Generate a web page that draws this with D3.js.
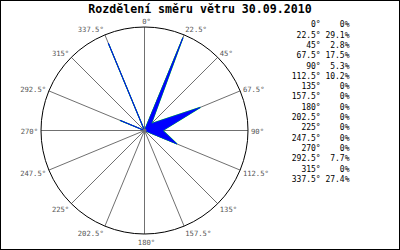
<!DOCTYPE html>
<meta charset="utf-8">
<script src="https://d3js.org/d3.v7.min.js"></script>
<style>
  body { margin: 0; background: #fff; }
</style>
<div id="chart"></div>
<script>
    // wind direction data (percent per sector)
    const title = "Rozdělení směru větru 30.09.2010";
    const directions = [0, 22.5, 45, 67.5, 90, 112.5, 135, 157.5, 180, 202.5, 225, 247.5, 270, 292.5, 315, 337.5];
    const percents = [0, 29.1, 2.8, 17.5, 5.3, 10.2, 0, 0, 0, 0, 0, 0, 0, 7.7, 0, 27.4];
    const maxScale = 30;

    const W = 400, H = 250;
    const cx = 144.5, cy = 130.5, R = 103.5;

    const svg = d3.select("#chart").append("svg")
        .attr("width", W)
        .attr("height", H);

    svg.append("rect")
        .attr("width", W).attr("height", H)
        .attr("fill", "#fff");

    // frame
    svg.append("rect")
        .attr("x", 0.5).attr("y", 0.5)
        .attr("width", W - 1).attr("height", H - 1)
        .attr("fill", "none")
        .attr("stroke", "#000");

    svg.append("text")
        .attr("x", 200).attr("y", 13)
        .attr("text-anchor", "middle")
        .attr("font-family", "DejaVu Sans Mono")
        .attr("font-weight", "bold")
        .attr("font-size", "11.6px")
        .text(title);

    const g = svg.append("g").attr("transform", `translate(${cx},${cy})`);

    const r = d3.scaleLinear().domain([0, maxScale]).range([0, R]);
    const rad = d => d * Math.PI / 180;

    // spokes
    g.selectAll(".spoke")
        .data(directions)
        .join("line")
        .attr("class", "spoke")
        .attr("x1", 0).attr("y1", 0)
        .attr("x2", d => R * Math.sin(rad(d)))
        .attr("y2", d => -R * Math.cos(rad(d)))
        .attr("stroke", "#707070")
        .attr("stroke-width", 1);

    // outer circle
    g.append("circle")
        .attr("r", R)
        .attr("fill", "none")
        .attr("stroke", "#000")
        .attr("stroke-width", 1);

    // data polygon: green edge underneath, blue on top
    const pts = directions.map((d, i) => [r(percents[i]) * Math.sin(rad(d)), -r(percents[i]) * Math.cos(rad(d))]);
    const lineGen = d3.line().curve(d3.curveLinearClosed);
    g.append("path")
        .attr("d", lineGen(pts))
        .attr("fill", "none")
        .attr("stroke", "#00ff00")
        .attr("stroke-width", 1.2);
    g.append("path")
        .attr("d", lineGen(pts))
        .attr("fill", "#0000ff")
        .attr("stroke", "#0000ff")
        .attr("stroke-width", 0.8);

    g.append("circle")
        .attr("r", 2)
        .attr("fill", "#707070");

    // angle labels
    g.selectAll(".alabel")
        .data(directions)
        .join("text")
        .attr("class", "alabel")
        .attr("x", d => {
            const s = Math.sin(rad(d));
            return R * s + (Math.abs(s) < 0.01 ? 2 : s * 3);
        })
        .attr("y", d => -R * Math.cos(rad(d)) - Math.cos(rad(d)) * 7 + 1)
        .attr("dy", "0.35em")
        .attr("text-anchor", d => {
            const s = Math.sin(rad(d));
            return Math.abs(s) < 0.01 ? "middle" : (s > 0 ? "start" : "end");
        })
        .attr("font-family", "DejaVu Sans Mono")
        .attr("font-size", "7.2px")
        .attr("fill", "#555")
        .text(d => d + "°");

    // legend table
    const leg = svg.append("g")
        .attr("font-family", "DejaVu Sans Mono")
        .attr("font-size", "8px")
        .attr("fill", "#000");
    leg.selectAll(".ldir")
        .data(directions)
        .join("text")
        .attr("x", 320.7)
        .attr("y", (d, i) => 24.5 + i * 10.3)
        .attr("dy", "0.35em")
        .attr("text-anchor", "end")
        .text(d => d + "°");
    leg.selectAll(".lval")
        .data(percents)
        .join("text")
        .attr("x", 349.5)
        .attr("y", (d, i) => 24.5 + i * 10.3)
        .attr("dy", "0.35em")
        .attr("text-anchor", "end")
        .text(d => (d === 0 ? "0" : d.toFixed(1)) + "%");
</script>
